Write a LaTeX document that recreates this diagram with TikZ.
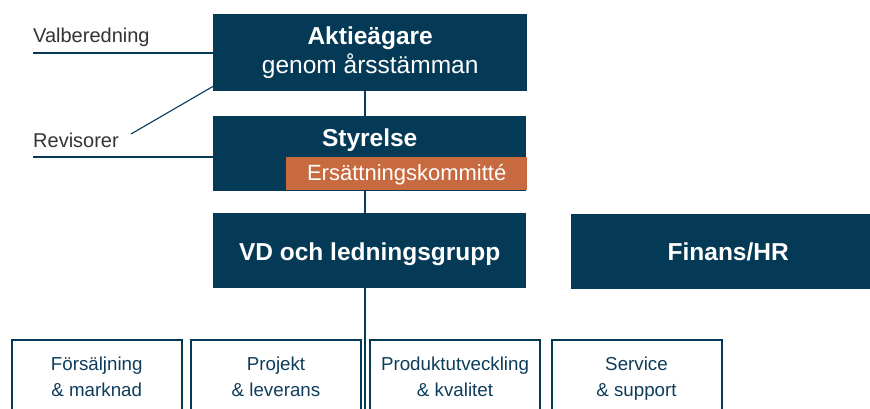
\documentclass[tikz,border=0pt]{standalone}
\usepackage{fontspec}
\setmainfont{Liberation Sans}
\definecolor{navy}{HTML}{053A57}
\definecolor{rust}{HTML}{C86A40}
\definecolor{labelgrey}{HTML}{333333}
\definecolor{navytext}{HTML}{0E3D5C}
\begin{document}
\begin{tikzpicture}[x=1pt,y=-1pt,
  navybox/.style={fill=navy, draw=none, inner sep=0pt, anchor=north west, text=white, align=center,
    font=\fontsize{24.5}{29}\selectfont},
  rustbox/.style={fill=rust, draw=none, inner sep=0pt, anchor=north west, text=white,
    font=\fontsize{22}{26}\selectfont},
  unitbox/.style={draw=navy, line width=2pt, fill=white, inner sep=0pt, minimum width=170pt,
    minimum height=76.6pt, text=navytext, align=center, font=\fontsize{18.75}{26}\selectfont},
  sidelabel/.style={anchor=base west, inner sep=0pt, text=labelgrey, font=\fontsize{20}{24}\selectfont},
  link/.style={draw=navy, line width=1.1pt}]
\useasboundingbox (0,0) rectangle (870,409);
\fill[white] (0,0) rectangle (870,409);

% side labels
\node[sidelabel] (val) at (33,43) {Valberedning};
\node[sidelabel] (rev) at (33,147) {Revisorer};

% main boxes
\node[navybox, minimum width=314pt, minimum height=77pt] (akt) at (213,14)
  {\textbf{Aktieägare}\\genom årsstämman};
\node[navybox, minimum width=313pt, minimum height=75pt, text height=17.5pt, text depth=32.5pt] (sty) at (213,116)
  {\textbf{Styrelse}};
\node[rustbox, minimum width=241pt, minimum height=33pt, text height=13pt, text depth=0pt] (kom) at (286,157)
  {Ersättningskommitté};
\node[navybox, minimum width=313pt, minimum height=75pt, text height=19pt, text depth=0pt] (vd) at (213,213)
  {\textbf{VD och ledningsgrupp}};
\node[navybox, minimum width=314pt, minimum height=75pt, text height=17pt, text depth=0pt] (fin) at (571,214)
  {\textbf{Finans/HR}};

% connectors
\coordinate (spine) at (365,0);
\coordinate (spineend) at (365,409);
\draw[link] (akt.south -| spine) -- (sty.north -| spine);
\draw[link] (sty.south -| spine) -- (vd.north -| spine);
\draw[link] (vd.south -| spine) -- (spineend);

\coordinate (valline) at (33,53);
\coordinate (revline) at (33,157);
\coordinate (revtip) at (131,134);
\draw[link] (valline) -- (valline -| akt.west);
\draw[link] (revline) -- (revline -| sty.west);
\draw[link] (revtip) -- ([yshift=5pt]akt.south west);

% units
\node[unitbox] (u1) at (96.75,378.3) {\strut Försäljning\\\strut\& marknad};
\node[unitbox] (u2) at (276,378.3) {\strut Projekt\\\strut\& leverans};
\node[unitbox] (u3) at (455,378.3) {\strut Produktutveckling\\\strut\& kvalitet};
\node[unitbox] (u4) at (636.5,378.3) {\strut Service\\\strut\& support};
\end{tikzpicture}
\end{document}
